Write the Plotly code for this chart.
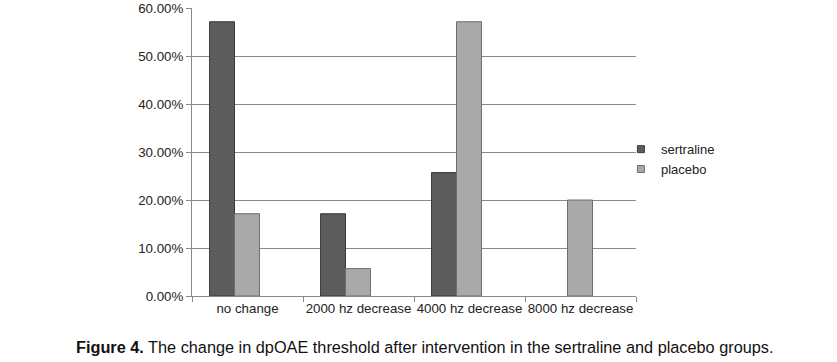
import plotly.graph_objects as go

categories = ["no change", "2000 hz decrease", "4000 hz decrease", "8000 hz decrease"]
sertraline = [0.5714, 0.1714, 0.2571, 0.0]
placebo = [0.1714, 0.0571, 0.5714, 0.20]
y_ticks = [0, 0.1, 0.2, 0.3, 0.4, 0.5, 0.6]

series = [
    ("sertraline", sertraline, "#5c5c5c", "#3a3a3a", -0.342),
    ("placebo", placebo, "#a9a9a9", "#6e6e6e", -0.117),
]

fig = go.Figure()
for name, vals, fill, edge, off in series:
    fig.add_trace(go.Bar(
        x=categories, y=vals, name=name, legendgroup=name, showlegend=False,
        width=0.225, offset=off,
        marker=dict(color=fill, line=dict(color=edge, width=[1 if v > 0 else 0 for v in vals])),
    ))
for name, vals, fill, edge, off in series:
    fig.add_trace(go.Scatter(
        x=[None], y=[None], mode="markers", name=name, legendgroup=name,
        marker=dict(symbol="square", size=7, color=fill, line=dict(color=edge, width=1)),
    ))

fig.update_layout(
    width=837, height=362,
    margin=dict(l=192, r=201, t=8, b=66, autoexpand=False),
    paper_bgcolor="white", plot_bgcolor="white",
    font=dict(family="Liberation Sans, Arial, sans-serif", size=13, color="#222"),
    barmode="overlay",
    showlegend=True,
    legend=dict(x=0.966, xanchor="left", y=0.475, yanchor="middle",
                font=dict(size=13, color="#222"), itemwidth=30,
                tracegroupgap=0, bgcolor="rgba(0,0,0,0)"),
    xaxis=dict(
        type="category", showline=True, linecolor="#888", linewidth=1,
        ticks="outside", tickson="boundaries", ticklen=5, tickcolor="#888",
        showgrid=False, tickfont=dict(size=13.3, color="#222"),
        tickangle=0, automargin=False,
    ),
    yaxis=dict(
        range=[0, 0.6], tickvals=y_ticks, tickformat=".2%",
        showline=True, linecolor="#888", linewidth=1,
        ticks="outside", ticklen=5, tickcolor="#888",
        showgrid=True, gridcolor="#8a8a8a", gridwidth=1,
        zeroline=False, tickfont=dict(size=13.3, color="#222"), automargin=False,
    ),
    annotations=[dict(
        text="<b>Figure 4.</b> The change in dpOAE threshold after intervention in the sertraline and placebo groups.",
        xref="paper", yref="paper", x=0.524, y=-0.178, xanchor="center", yanchor="middle",
        showarrow=False, font=dict(size=16.3, color="#111", family="Liberation Sans, Arial"),
    )],
)

fig.write_html("out.html", config={"displayModeBar": False},
               post_script="document.body.style.margin='0';document.body.style.padding='0';")
